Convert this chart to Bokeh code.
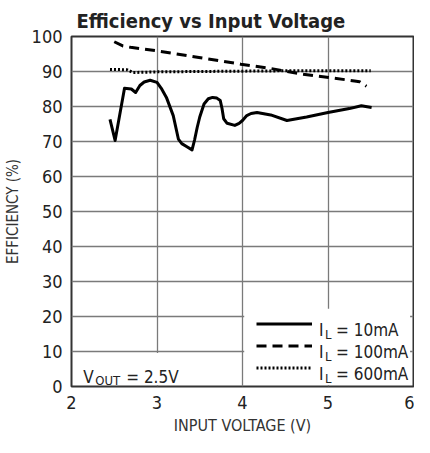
from bokeh.plotting import figure
from bokeh.models import (Range1d, FixedTicker, Legend, LegendItem, BoxAnnotation,
                          Label, Title)
from bokeh.embed import file_html
from bokeh.resources import INLINE

FONT = "'Liberation Sans Narrow', 'DejaVu Sans Condensed', 'Roboto Condensed', 'Liberation Sans'"

# 10 mA load
v_10ma = [2.45, 2.51, 2.62, 2.70, 2.75, 2.80, 2.85, 2.92, 3.0, 3.05, 3.11, 3.19, 3.25,
          3.29, 3.35, 3.41, 3.44, 3.47, 3.50, 3.55, 3.60, 3.65, 3.70, 3.74, 3.76,
          3.78, 3.82, 3.91, 3.96, 4.0, 4.05, 4.10, 4.17, 4.33, 4.52, 4.75, 5.0,
          5.25, 5.39, 5.51]
eff_10ma = [76.3, 70.3, 85.2, 85.0, 84.0, 86.0, 87.0, 87.5, 86.9, 85.2, 82.6, 77.4, 70.7,
            69.4, 68.5, 67.6, 70.5, 74.0, 77.0, 80.7, 82.2, 82.6, 82.4, 81.7, 79.5,
            76.5, 75.2, 74.6, 75.2, 76.0, 77.4, 78.0, 78.3, 77.6, 76.0, 77.0, 78.3,
            79.4, 80.2, 79.7]

# 100 mA load
v_100ma = [2.50, 2.60, 2.69, 3.0, 3.49, 3.98, 4.32, 4.69, 5.01, 5.31, 5.37, 5.45]
eff_100ma = [98.5, 97.3, 96.9, 95.9, 94.0, 92.1, 90.9, 89.3, 88.3, 87.3, 87.1, 85.8]

# 600 mA load
v_600ma = [2.45, 2.65, 2.72, 3.0, 3.5, 4.0, 4.5, 5.0, 5.5]
eff_600ma = [90.6, 90.5, 89.7, 89.9, 90.0, 90.1, 90.2, 90.2, 90.2]

x_ticks = [2, 3, 4, 5, 6]
y_ticks = [0, 10, 20, 30, 40, 50, 60, 70, 80, 90, 100]

legend_texts = ["= 10mA", "= 100mA", "= 600mA"]

p = figure(width=414, height=437, output_backend="svg", toolbar_location=None,
           x_range=Range1d(2, 6), y_range=Range1d(0, 100),
           min_border_left=67, min_border_right=1, min_border_top=36,
           min_border_bottom=50)

p.background_fill_color = "white"
p.border_fill_color = "white"
p.outline_line_color = "#333333"
p.outline_line_width = 2

p.title = Title(text="Efficiency vs Input Voltage", align="left", offset=5,
                text_font=FONT, text_font_style="bold", text_font_size="20px",
                text_color="#222222", standoff=7)

for ax in (p.xaxis[0], p.yaxis[0]):
    ax.axis_line_color = None
    ax.major_tick_line_color = None
    ax.minor_tick_line_color = None
    ax.major_tick_out = 0
    ax.major_tick_in = 0
    ax.major_label_text_font = FONT
    ax.major_label_text_font_size = "18px"
    ax.major_label_text_color = "#222222"
    ax.axis_label_text_font = FONT
    ax.axis_label_text_font_style = "normal"
    ax.axis_label_text_color = "#333333"

p.xaxis.ticker = FixedTicker(ticks=x_ticks)
p.yaxis.ticker = FixedTicker(ticks=y_ticks)
p.xaxis.axis_label = "INPUT VOLTAGE (V)"
p.yaxis.axis_label = "EFFICIENCY (%)"
p.xaxis.axis_label_text_font_size = "16px"
p.yaxis.axis_label_text_font_size = "15px"
p.xaxis.major_label_standoff = 9
p.yaxis.major_label_standoff = 9
p.xaxis.axis_label_standoff = 4
p.yaxis.axis_label_standoff = 7

p.grid.grid_line_color = "#7a7a7a"
p.grid.grid_line_width = 1.3
p.xgrid.ticker = FixedTicker(ticks=x_ticks)
p.ygrid.ticker = FixedTicker(ticks=y_ticks)

r10 = p.line(v_10ma, eff_10ma, line_color="black", line_width=3, line_join="round")
r100 = p.line(v_100ma, eff_100ma, line_color="black", line_width=3, line_dash="10 6")
r600 = p.line(v_600ma, eff_600ma, line_color="black", line_width=3, line_dash="2 2")

p.add_layout(BoxAnnotation(left=4.02, right=5.96, bottom=0.4, top=22.2,
                           fill_color="white", fill_alpha=1.0, line_alpha=0))
p.add_layout(BoxAnnotation(left=2.02, right=3.3, bottom=0.4, top=9.6,
                           fill_color="white", fill_alpha=1.0, line_alpha=0))

legend = Legend(items=[LegendItem(label=" ", renderers=[r10]),
                       LegendItem(label=" ", renderers=[r100]),
                       LegendItem(label=" ", renderers=[r600])],
                location=(185, 8.5), glyph_width=56, glyph_height=21, spacing=1,
                padding=0, margin=0, label_standoff=0, label_text_font_size="1px",
                background_fill_alpha=0, border_line_alpha=0)
p.add_layout(legend, "center")

base_y = [16.2, 10.0, 3.7]
for txt, by in zip(legend_texts, base_y):
    p.add_layout(Label(x=4.895, y=by, text="I", text_font=FONT, text_font_size="17px",
                       text_color="#222222", text_baseline="alphabetic"))
    p.add_layout(Label(x=4.895, y=by, x_offset=6, y_offset=-5, text="L", text_font=FONT,
                       text_font_size="13px", text_color="#222222",
                       text_baseline="alphabetic"))
    p.add_layout(Label(x=4.895, y=by, x_offset=17, text=txt, text_font=FONT,
                       text_font_size="17px", text_color="#222222",
                       text_baseline="alphabetic"))

p.add_layout(Label(x=2.137, y=2.85, text="V", text_font=FONT, text_font_size="17px",
                   text_color="#222222", text_baseline="alphabetic"))
p.add_layout(Label(x=2.137, y=2.85, x_offset=12, y_offset=-4, text="OUT", text_font=FONT,
                   text_font_size="13px", text_color="#222222", text_baseline="alphabetic"))
p.add_layout(Label(x=2.137, y=2.85, x_offset=43, text="= 2.5V", text_font=FONT,
                   text_font_size="17px", text_color="#222222", text_baseline="alphabetic"))

open("out.html", "w").write(file_html(p, INLINE))
